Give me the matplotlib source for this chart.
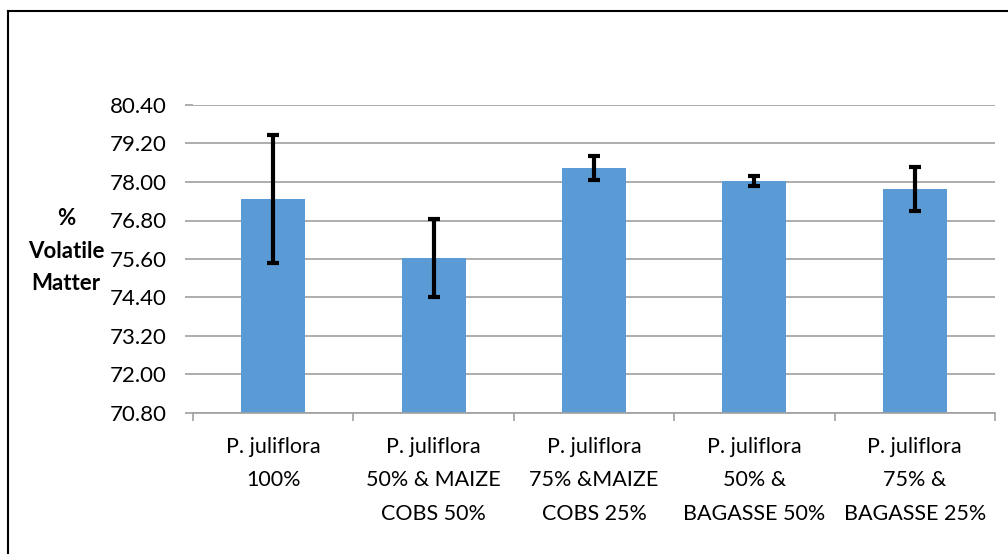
import matplotlib
matplotlib.use("Agg")
import matplotlib.pyplot as plt
from matplotlib.lines import Line2D
import numpy as np

categories = ["P. juliflora\n100%",
              "P. juliflora\n50% & MAIZE\nCOBS 50%",
              "P. juliflora\n75% &MAIZE\nCOBS 25%",
              "P. juliflora\n50% &\nBAGASSE 50%",
              "P. juliflora\n75% &\nBAGASSE 25%"]
values = [77.47, 75.62, 78.43, 78.03, 77.78]
errors = [1.99, 1.22, 0.38, 0.17, 0.69]
yticks = [70.80, 72.00, 73.20, 74.40, 75.60, 76.80, 78.00, 79.20, 80.40]

plt.rcParams['font.family'] = ['Lato', 'DejaVu Sans']

fig = plt.figure(figsize=(10.08, 5.54), dpi=100)
ax = fig.add_axes([193/1008, 1-413/554, (995-193)/1008, (413-105)/554])

x = np.arange(len(categories))
ax.bar(x, [v - yticks[0] for v in values], bottom=yticks[0], width=0.4,
       color='#5B9BD5', zorder=2)
ax.errorbar(x, values, yerr=errors, fmt='none', ecolor='black',
            elinewidth=3.0, capsize=4.5, capthick=3.0, zorder=3)

ax.set_ylim(yticks[0], yticks[-1])
ax.set_xlim(-0.5, len(categories) - 0.5)
ax.set_yticks(yticks)
ax.set_yticklabels([f"{t:.2f}" for t in yticks], fontsize=16)
ax.grid(axis='y', color='#A0A0A0', linewidth=1.2, zorder=0)
ax.set_axisbelow(True)

ax.set_xticks(x)
ax.set_xticklabels(categories, fontsize=15.5, linespacing=1.85, va='top')
ax.tick_params(axis='x', length=0, pad=17)
ax.set_xticks(np.arange(-0.5, len(categories)), minor=True)
ax.tick_params(axis='x', which='minor', length=6, color='#A0A0A0', width=1.2)
ax.tick_params(axis='y', length=5.8, color='#A0A0A0', width=1.2, pad=13)

for s in ['top', 'right', 'left']:
    ax.spines[s].set_visible(False)
ax.spines['bottom'].set_color('#A0A0A0')
ax.spines['bottom'].set_linewidth(1.2)

fig.text(66/1008, 1-251/554, "%\nVolatile\nMatter", ha='center', va='center',
         fontsize=16, fontweight='bold', linespacing=1.7)

# outer chart border (only left and top visible)
fig.add_artist(Line2D([8/1008, 8/1008], [0, 1-11/554], color='black', lw=1.5,
                      transform=fig.transFigure))
fig.add_artist(Line2D([8/1008, 1], [1-11/554, 1-11/554], color='black', lw=1.5,
                      transform=fig.transFigure))

fig.savefig("out.png", dpi=100)
